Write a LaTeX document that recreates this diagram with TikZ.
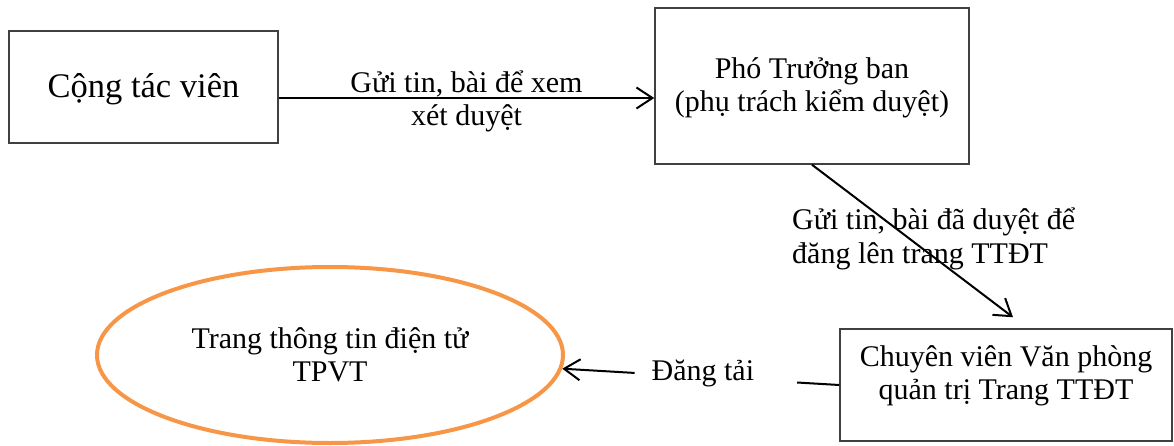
\documentclass[tikz,border=0pt]{standalone}
\usepackage{fontspec}
\setmainfont{Liberation Serif}
\usetikzlibrary{arrows.meta,shapes.geometric,calc}
\definecolor{boxgray}{RGB}{64,64,64}
\definecolor{ellorange}{RGB}{247,150,70}
\begin{document}
\begin{tikzpicture}[x=1pt,y=-1pt,
  box/.style={draw=boxgray,line width=1.5pt,rectangle,inner sep=0pt},
  lbl/.style={font=\fontsize{30}{33}\selectfont,align=center,inner sep=0pt},
  plainline/.style={draw=black,line width=2pt},
  conn/.style={plainline,-{Straight Barb[length=16pt,width=21pt,line width=2pt]}},
]
\useasboundingbox (0,0) rectangle (1174,446);
% nodes
\node[box,minimum width=269pt,minimum height=112pt] (ctv) at (143.5,87) {};
\node[font=\fontsize{34.5}{40}\selectfont,inner sep=0pt] (ctvt) at ([yshift=-2pt]ctv.center) {Cộng tác viên};
\node[box,minimum width=314pt,minimum height=156pt] (ptb) at (812,86) {};
\node[lbl] (ptbt) at ([yshift=-2pt]ptb.center) {Phó Trưởng ban\\(phụ trách kiểm duyệt)};
\node[box,minimum width=332pt,minimum height=112pt] (cvv) at (1006,385) {};
\node[lbl] (cvvt) at ([yshift=9pt]cvv.center) {Chuyên viên Văn phòng\\quản trị Trang TTĐT};
\node[ellipse,draw=ellorange,line width=4pt,minimum width=466pt,minimum height=176pt,inner sep=0pt] (web) at (330,355) {};
\node[lbl] (webt) at (web.center) {Trang thông tin điện tử\\TPVT};
% connectors
\draw[conn] ([yshift=-11pt]ctv.east) -- node[lbl,yshift=-3pt] (l1) {Gửi tin, bài để xem\\xét duyệt} ([yshift=-12pt]ptb.west);
\draw[conn] (ptb.south) -- ([xshift=7pt,yshift=11pt]cvv.north);
\node[lbl,align=left,anchor=west,font=\fontsize{30}{34}\selectfont] (l2) at (792,239) {Gửi tin, bài đã duyệt để\\đăng lên trang TTĐT};
\path (cvv.west) -- (web) coordinate[pos=0.152] (gr) coordinate[pos=0.739] (gl);
\draw[plainline] (cvv.west) -- (gr);
\draw[conn] (gl) -- (web);
\node[lbl,yshift=3pt] (l3) at ($(gl)!0.42!(gr)$) {Đăng tải};
\end{tikzpicture}
\end{document}
